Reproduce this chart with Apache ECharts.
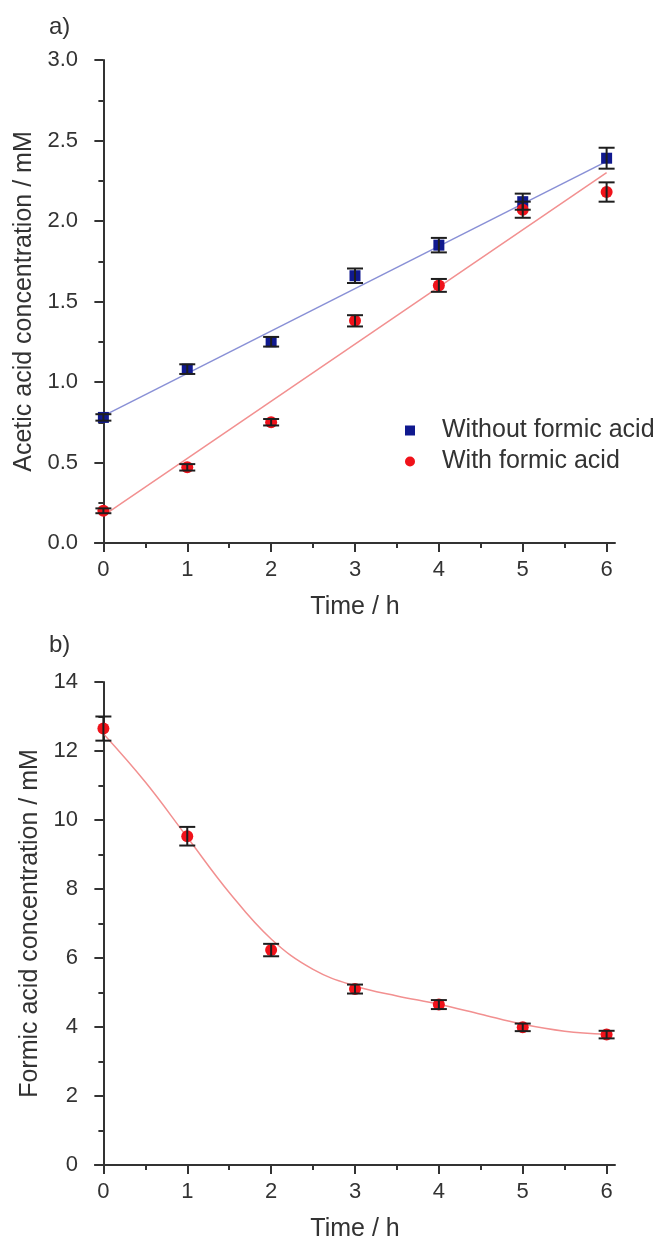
<!DOCTYPE html>
<html lang="en">
<head>
    <meta charset="UTF-8">
    <title>Acetic / formic acid concentration</title>
    <script src="https://cdn.jsdelivr.net/npm/echarts@6/dist/echarts.min.js"></script>
    <style>
        html, body { margin: 0; padding: 0; background: #fff; }
        #chart { width: 670px; height: 1245px; }
    </style>
</head>
<body>
<div id="chart"></div>
<script>
    // time points (h)
    var timeH = [0, 1, 2, 3, 4, 5, 6];

    // a) acetic acid, mM
    var aceticWithout = [0.78, 1.08, 1.25, 1.66, 1.85, 2.12, 2.39];
    var aceticWithoutErr = [0.02, 0.03, 0.03, 0.045, 0.045, 0.05, 0.065];
    var aceticWith = [0.20, 0.47, 0.75, 1.38, 1.60, 2.07, 2.18];
    var aceticWithErr = [0.015, 0.02, 0.02, 0.035, 0.04, 0.05, 0.06];

    // linear fit lines (end points)
    var fitWithoutX = [0, 6];
    var fitWithoutY = [0.79, 2.37];
    var fitWithX = [0, 6];
    var fitWithY = [0.17, 2.30];

    // b) formic acid, mM
    var formic = [12.65, 9.53, 6.23, 5.10, 4.65, 3.99, 3.78];
    var formicErr = [0.35, 0.27, 0.18, 0.13, 0.13, 0.11, 0.11];
    var fitFormicX = [0, 0.5, 1, 1.5, 2, 2.5, 3, 3.5, 4, 4.5, 5, 5.5, 6];
    var fitFormicY = [12.5, 11.1, 9.5, 7.9, 6.55, 5.67, 5.19, 4.9, 4.66, 4.37, 4.08, 3.88, 3.79];

    // axis ticks
    var xTicks = [0, 1, 2, 3, 4, 5, 6];
    var xMinorTicks = [0.5, 1.5, 2.5, 3.5, 4.5, 5.5];

    var FONT = 'Liberation Sans, Arial, sans-serif';
    var AXIS = '#333';

    function pairs(xs, ys) {
        return xs.map(function (x, i) { return [x, ys[i]]; });
    }
    function errData(xs, ys, es) {
        return xs.map(function (x, i) { return [x, ys[i] - es[i], ys[i] + es[i]]; });
    }

    // error bar with caps
    function renderErr(params, api) {
        var x = api.value(0);
        var top = api.coord([x, api.value(2)]);
        var bot = api.coord([x, api.value(1)]);
        var w = 8;
        var st = { stroke: '#1e1e1e', lineWidth: 2 };
        return {
            type: 'group',
            children: [
                { type: 'line', shape: { x1: top[0], y1: top[1], x2: bot[0], y2: bot[1] }, style: st },
                { type: 'line', shape: { x1: top[0] - w, y1: top[1], x2: top[0] + w, y2: top[1] }, style: st },
                { type: 'line', shape: { x1: bot[0] - w, y1: bot[1], x2: bot[0] + w, y2: bot[1] }, style: st }
            ]
        };
    }

    function xAxisMain(grid) {
        return {
            type: 'value', gridIndex: grid, min: -0.1, max: 6.1,
            name: 'Time / h', nameLocation: 'middle', nameGap: 52,
            nameTextStyle: { fontFamily: FONT, fontSize: 25, color: AXIS },
            axisLine: { show: true, onZero: false, lineStyle: { color: AXIS, width: 2 } },
            axisTick: { show: true, inside: false, length: 9, customValues: xTicks, lineStyle: { color: AXIS, width: 2 } },
            axisLabel: { customValues: xTicks, margin: 16, fontFamily: FONT, fontSize: 22, color: AXIS },
            splitLine: { show: false }
        };
    }
    // second x axis only for the half-hour minor ticks
    function xAxisMinor(grid) {
        return {
            type: 'value', gridIndex: grid, position: 'bottom', min: -0.1, max: 6.1,
            axisLine: { show: false, onZero: false },
            axisTick: { show: true, length: 5, customValues: xMinorTicks, lineStyle: { color: AXIS, width: 2 } },
            axisLabel: { show: false },
            splitLine: { show: false }
        };
    }
    function yAxis(grid, name, max, interval, digits, gap) {
        return {
            type: 'value', gridIndex: grid, min: 0, max: max, interval: interval,
            name: name, nameLocation: 'middle', nameGap: gap,
            nameTextStyle: { fontFamily: FONT, fontSize: 25, color: AXIS },
            axisLine: { show: true, lineStyle: { color: AXIS, width: 2 } },
            axisTick: { show: true, length: 9, lineStyle: { color: AXIS, width: 2 } },
            minorTick: { show: true, splitNumber: 2, length: 5, lineStyle: { color: AXIS, width: 2 } },
            axisLabel: {
                margin: 17, fontFamily: FONT, fontSize: 22, color: AXIS,
                formatter: function (v) { return v.toFixed(digits); }
            },
            splitLine: { show: false }
        };
    }

    var option = {
        animation: false,
        backgroundColor: '#fff',
        title: [
            { text: 'a)', left: 44, top: 10, textStyle: { fontFamily: FONT, fontSize: 24, fontWeight: 'normal', color: AXIS } },
            { text: 'b)', left: 44, top: 628, textStyle: { fontFamily: FONT, fontSize: 24, fontWeight: 'normal', color: AXIS } }
        ],
        legend: {
            orient: 'vertical', left: 400, top: 413, itemGap: 6,
            itemWidth: 10, itemHeight: 10,
            textStyle: { fontFamily: FONT, fontSize: 25, color: AXIS, padding: [0, 0, 0, 22] },
            data: [
                { name: 'Without formic acid', icon: 'rect' },
                { name: 'With formic acid', icon: 'circle' }
            ]
        },
        grid: [
            { left: 95, right: 55, top: 60, height: 483 },
            { left: 95, right: 55, top: 682, height: 483 }
        ],
        xAxis: [xAxisMain(0), xAxisMinor(0), xAxisMain(1), xAxisMinor(1)],
        yAxis: [
            yAxis(0, 'Acetic acid concentration / mM', 3, 0.5, 1, 50),
            yAxis(1, 'Formic acid concentration / mM', 14, 2, 0, 48)
        ],
        series: [
            {
                name: 'fit without', type: 'line', xAxisIndex: 0, yAxisIndex: 0,
                data: pairs(fitWithoutX, fitWithoutY), symbol: 'none',
                lineStyle: { color: '#8990d6', width: 1.5 }, z: 1
            },
            {
                name: 'fit with', type: 'line', xAxisIndex: 0, yAxisIndex: 0,
                data: pairs(fitWithX, fitWithY), symbol: 'none',
                lineStyle: { color: '#f29090', width: 1.5 }, z: 1
            },
            {
                name: 'Without formic acid', type: 'scatter', xAxisIndex: 0, yAxisIndex: 0,
                data: pairs(timeH, aceticWithout), symbol: 'rect', symbolSize: 11,
                itemStyle: { color: '#10198f', opacity: 1 }, z: 2
            },
            {
                name: 'With formic acid', type: 'scatter', xAxisIndex: 0, yAxisIndex: 0,
                data: pairs(timeH, aceticWith), symbol: 'circle', symbolSize: 12,
                itemStyle: { color: '#f0121a', opacity: 1 }, z: 2
            },
            {
                type: 'custom', xAxisIndex: 0, yAxisIndex: 0, renderItem: renderErr,
                data: errData(timeH, aceticWithout, aceticWithoutErr), encode: { x: 0, y: [1, 2] }, z: 3
            },
            {
                type: 'custom', xAxisIndex: 0, yAxisIndex: 0, renderItem: renderErr,
                data: errData(timeH, aceticWith, aceticWithErr), encode: { x: 0, y: [1, 2] }, z: 3
            },
            // b)
            {
                name: 'formic fit', type: 'line', xAxisIndex: 2, yAxisIndex: 1,
                data: pairs(fitFormicX, fitFormicY), symbol: 'none', smooth: 0.4,
                lineStyle: { color: '#f29090', width: 1.5 }, z: 1
            },
            {
                name: 'Formic acid', type: 'scatter', xAxisIndex: 2, yAxisIndex: 1,
                data: pairs(timeH, formic), symbol: 'circle', symbolSize: 12,
                itemStyle: { color: '#f0121a', opacity: 1 }, z: 2
            },
            {
                type: 'custom', xAxisIndex: 2, yAxisIndex: 1, renderItem: renderErr,
                data: errData(timeH, formic, formicErr), encode: { x: 0, y: [1, 2] }, z: 3
            }
        ]
    };

    var myChart = echarts.init(document.getElementById('chart'));
    myChart.setOption(option);
</script>
</body>
</html>
